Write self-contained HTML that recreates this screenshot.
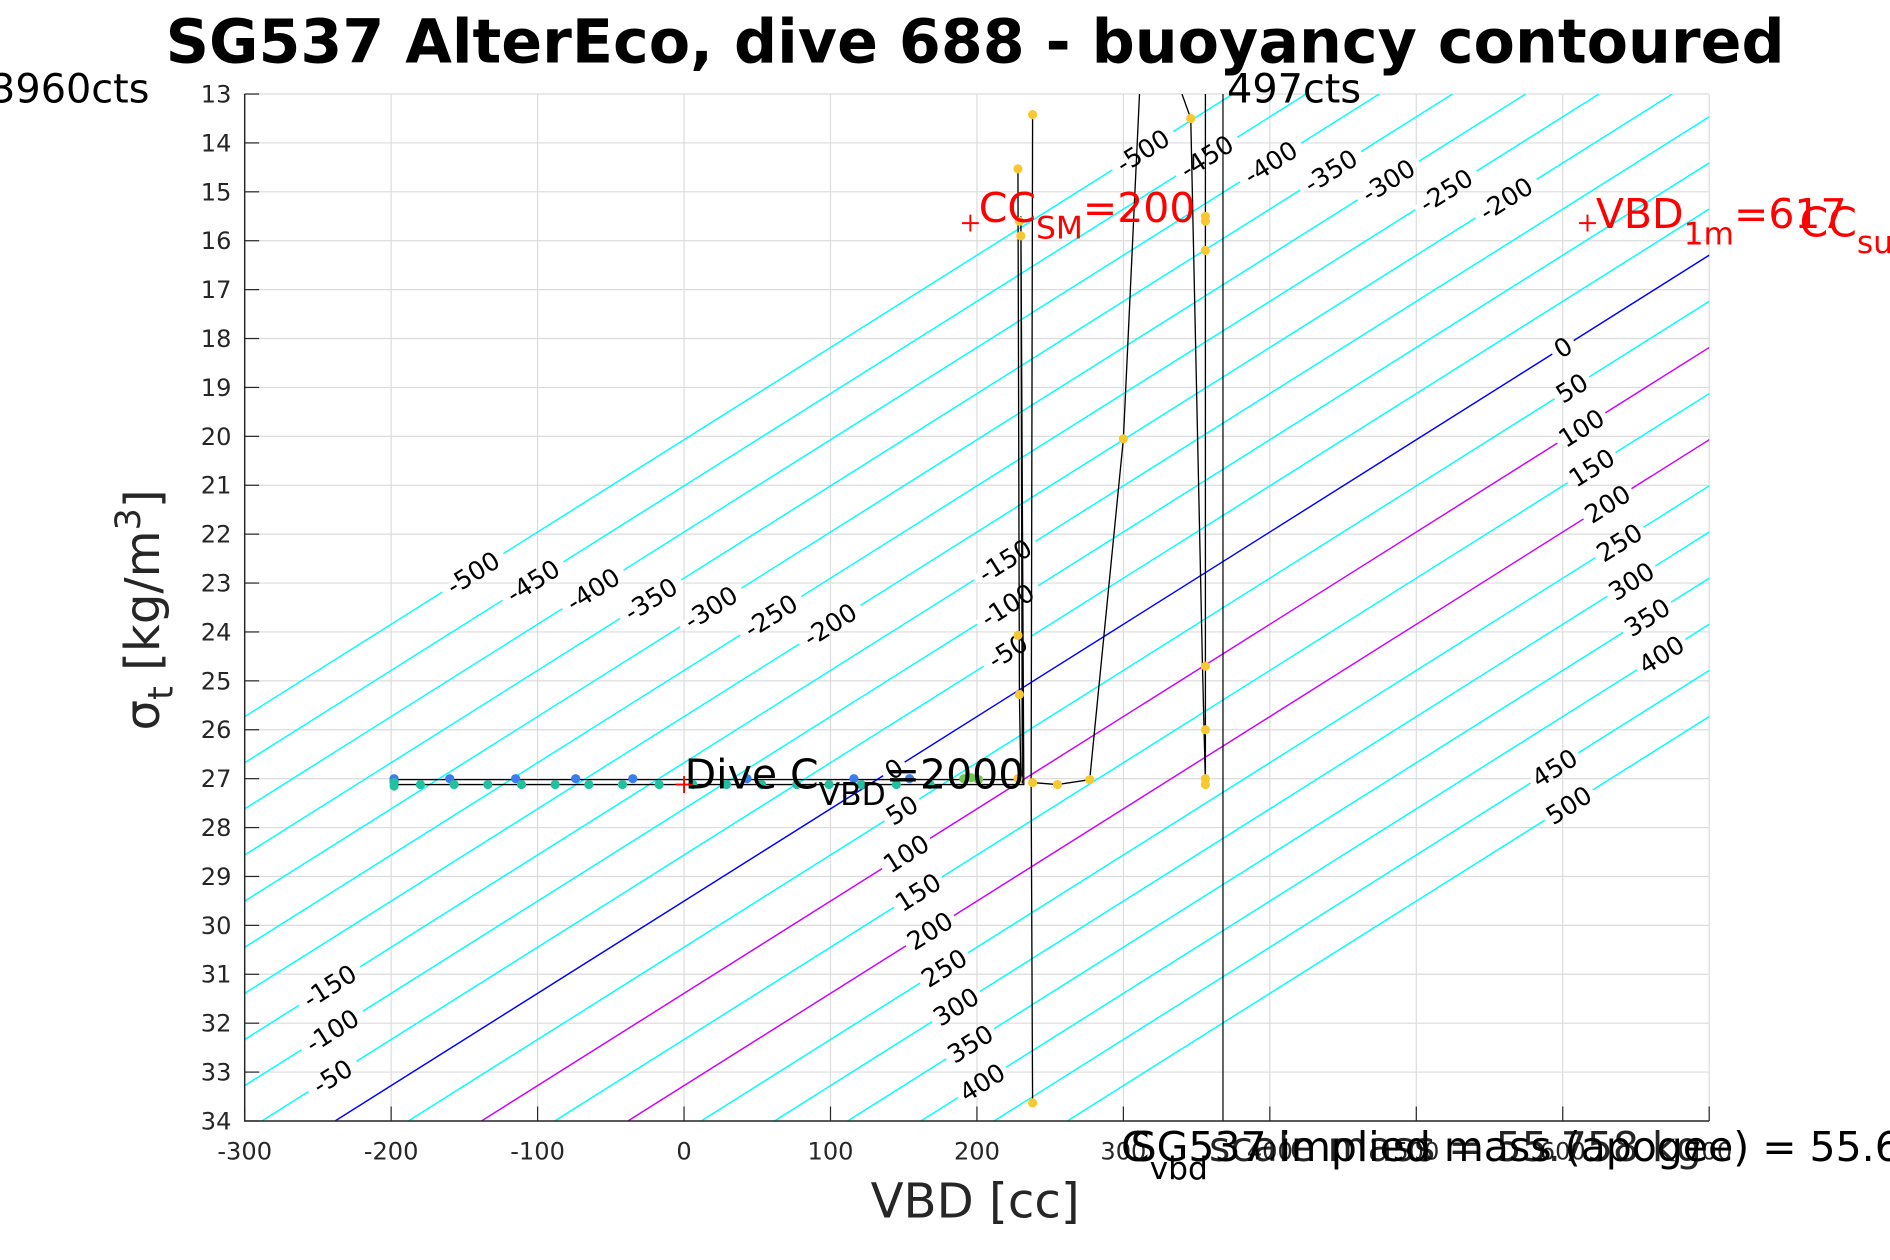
<!DOCTYPE html>
<html><head><meta charset="utf-8"><style>
html,body{margin:0;padding:0;background:#fff}
svg{display:block;font-family:"DejaVu Sans","Liberation Sans",sans-serif}
</style></head><body>
<svg id="chart" width="1890" height="1260" viewBox="0 0 1568 1045.33" xmlns="http://www.w3.org/2000/svg">
<defs><clipPath id="clip"><rect x="203" y="78" width="1215" height="852"/></clipPath></defs>
<rect x="0" y="0" width="1568" height="1046" fill="#fff"/>
<text x="809" y="52" text-anchor="middle" font-size="50" font-weight="bold" fill="#000">SG537 AlterEco, dive 688 - buoyancy contoured</text>
<g id="grid"></g>
<g id="contours" clip-path="url(#clip)"></g>
<g id="clabels"></g>
<g id="series" clip-path="url(#clip)"></g>
<g id="axes"></g>
<text x="809" y="1010" text-anchor="middle" font-size="40" fill="#262626">VBD [cc]</text>
<text transform="translate(132,506) rotate(-90)" text-anchor="middle" font-size="40" fill="#262626">σ<tspan font-size="29" dy="11">t</tspan><tspan dy="-11"> [kg/m</tspan><tspan font-size="29" dy="-16">3</tspan><tspan dy="16">]</tspan></text>
<text x="124" y="85" text-anchor="end" font-size="33" fill="#000">3960cts</text>
<text x="1018" y="85" font-size="33" fill="#000">497cts</text>
<g fill="red" font-size="34"><text x="812" y="184">CC<tspan font-size="26" dy="14">SM</tspan><tspan dy="-14">=200</tspan></text></g>
<g fill="red" font-size="34"><text x="1324" y="189">VBD<tspan font-size="26" dy="14">1m</tspan><tspan dy="-14">=617</tspan></text><text x="1493" y="196">CC<tspan font-size="26" dy="14">su</tspan></text></g>
<g fill="#000" font-size="34"><text x="568" y="654">Dive C<tspan font-size="26" dy="14">VBD</tspan><tspan dy="-14">=2000</tspan></text></g>
<g fill="#000" font-size="34">
<text x="930" y="963">C<tspan font-size="26" dy="15">vbd</tspan></text>
<text x="938" y="963">SG537 implied mass (apogee) = 55.65</text>
<text x="1003" y="963" opacity="0.85">scale mass = 55.758 kg</text>
</g>
<script>
const xTicks=[-300,-200,-100,0,100,200,300,400,500,600,700];
const yTicks=[13,14,15,16,17,18,19,20,21,22,23,24,25,26,27,28,29,30,31,32,33,34];
const contourLevels=[-500,-450,-400,-350,-300,-250,-200,-150,-100,-50,0,50,100,150,200,250,300,350,400,450,500];
const labelLevels=[-500,-450,-400,-350,-300,-250,-200,-500,-450,-400,-350,-300,-250,-200,-150,-100,-50,-150,-100,-50,0,50,100,150,200,250,300,350,400,450,500,0,50,100,150,200,250,300,350,400];
const labelSigma=[22.79,22.96,23.13,23.33,23.50,23.67,23.85,14.16,14.28,14.40,14.57,14.77,14.97,15.14,22.54,23.45,24.39,31.24,32.15,33.09,18.18,19.01,19.83,20.64,21.38,22.17,22.96,23.70,24.46,26.78,27.54,26.80,27.64,28.53,29.32,30.11,30.87,31.66,32.42,33.21];
const descentVbd=[-198,-198,-160,-115,-74,-35,43,116,154,228];
const descentSigma=[27.0,27.05,27.0,27.0,27.0,27.0,27.0,27.0,27.0,27.0];
const climbVbd=[-198,-198,-180,-157,-134,-111,-88,-65,-42,-17,6,29,53,77,99,121,145,168];
const climbSigma=[27.08,27.15,27.12,27.12,27.12,27.12,27.12,27.12,27.12,27.12,27.12,27.12,27.12,27.12,27.12,27.12,27.12,27.12];
const greenVbd=[191,196,201];
const greenSigma=[27.0,26.98,27.02];
const yellowVbd=[238,228,229,230,228,229,228,238,238,255,277,300,346,356,356,356,356,356,356,356];
const yellowSigma=[13.42,14.53,15.6,15.9,24.07,25.28,27.0,27.08,33.63,27.12,27.02,20.05,13.5,15.5,15.6,16.2,24.7,26.0,27.0,27.12];
const traceA_vbd=[-198,230,229,228];const traceA_sig=[27.02,27.02,25.3,14.53];
const traceB_vbd=[-198,232,230,231];const traceB_sig=[27.12,27.12,15.5,27.1];
const traceC_vbd=[238,237,238];const traceC_sig=[13.42,27.1,33.63];
const traceD_vbd=[238,255,277,300,311];const traceD_sig=[27.08,27.12,27.02,20.05,13.0];
const traceE_vbd=[340,346,354,356,356,356];const traceE_sig=[13.0,13.5,24.7,27.1,13.0,27.1];
const refLineVbd=[368];

const NS="http://www.w3.org/2000/svg";
const X0=203,X1=1418,Y0=78,Y1=930;
const xs=v=>X0+(v+300)*(X1-X0)/1000;
const ys=s=>Y0+(s-13)*(Y1-Y0)/21;
const contourV=(s,c)=>-238.3+c+(34-s)*53.0;
function mk(tag,attrs,parent){const e=document.createElementNS(NS,tag);for(const k in attrs)e.setAttribute(k,attrs[k]);parent.appendChild(e);return e;}
const grid=document.getElementById('grid'),axes=document.getElementById('axes'),cont=document.getElementById('contours'),cl=document.getElementById('clabels'),ser=document.getElementById('series');
xTicks.forEach(v=>{
 const l=mk('line',{x1:xs(v),x2:xs(v),y1:Y0,y2:Y1,stroke:'#dcdcdc','stroke-width':1},grid);
 
 
 const t=mk('line',{x1:xs(v),x2:xs(v),y1:Y1,y2:Y1-12,stroke:'#262626','stroke-width':1},axes);
 
 
 const tx=mk('text',{x:xs(v),y:Y1+32,'text-anchor':'middle','font-size':20,fill:'#262626'},axes);
 tx.textContent=v;
 
 
});
yTicks.forEach(s=>{
 const l=mk('line',{x1:X0,x2:X1,y1:ys(s),y2:ys(s),stroke:'#dcdcdc','stroke-width':1},grid);
 
 
 const t=mk('line',{x1:X0,x2:X0+12,y1:ys(s),y2:ys(s),stroke:'#262626','stroke-width':1},axes);
 
 
 const tx=mk('text',{x:X0-11,y:ys(s)+7,'text-anchor':'end','font-size':20,fill:'#262626'},axes);
 tx.textContent=s;
 
 
});
const ax=mk('path',{d:`M${X0},${Y0}V${Y1}H${X1}`,fill:'none',stroke:'#262626','stroke-width':1.2},axes);


contourLevels.forEach(c=>{
 const col=c===0?'#0000ff':(c===100||c===200)?'#cc00ff':'#00ffff';
 const l=mk('line',{x1:xs(contourV(13,c)),y1:ys(13),x2:xs(contourV(34,c)),y2:ys(34),stroke:col,'stroke-width':1.2},cont);
 
 
});
const ang=-Math.atan((ys(1)-ys(0))/(xs(53)-xs(0)))*180/Math.PI;
labelLevels.forEach((c,i)=>{
 const s=labelSigma[i],x=xs(contourV(s,c)),y=ys(s);
 const g=mk('g',{transform:`translate(${x},${y}) rotate(${ang})`},cl);
 
 
 const w=String(c).length*13+8;
 mk('rect',{x:-w/2,y:-3,width:w,height:6,fill:'#fff'},g);
 const t=mk('text',{x:0,y:7.5,'text-anchor':'middle','font-size':21,fill:'#000'},g);
 t.textContent=c;
});
function poly(vb,sg,name){
 const p=mk('polyline',{points:vb.map((v,i)=>xs(v)+','+ys(sg[i])).join(' '),fill:'none',stroke:'#000','stroke-width':1.1},ser);
 
 
}
poly(traceA_vbd,traceA_sig,'descent-trace');
poly(traceB_vbd,traceB_sig,'climb-trace');
poly(traceC_vbd,traceC_sig,'vertical-trace');
poly(traceD_vbd,traceD_sig,'apogee-trace');
poly(traceE_vbd,traceE_sig,'surface-trace');
refLineVbd.forEach(v=>{
 const l=mk('line',{x1:xs(v),x2:xs(v),y1:Y0,y2:Y1,stroke:'#000','stroke-width':1},ser);
 
 
});
function dots(vb,sg,col,name){
 vb.forEach((v,i)=>{
  const c=mk('circle',{cx:xs(v),cy:ys(sg[i]),r:3.8,fill:col},ser);
  
  
 });
}
dots(descentVbd.slice(0,9),descentSigma.slice(0,9),'#3b7cf0','descent-point');
dots(climbVbd,climbSigma,'#20c0a0','climb-point');
dots(greenVbd,greenSigma,'#70c850','mid-point');
dots(yellowVbd,yellowSigma,'#f8c830','apogee-point');
function plus(v,s,name){
 const g=mk('path',{d:`M${xs(v)-7},${ys(s)}h14M${xs(v)},${ys(s)-7}v14`,stroke:'red','stroke-width':1.6},document.getElementById('chart'));
 
 
}
plus(0,27.12,'cvbd-marker');
plus(195.5,15.64,'cc-sm-marker');
plus(616.9,15.64,'vbd-1m-marker');
</script>
</svg>
</body></html>
